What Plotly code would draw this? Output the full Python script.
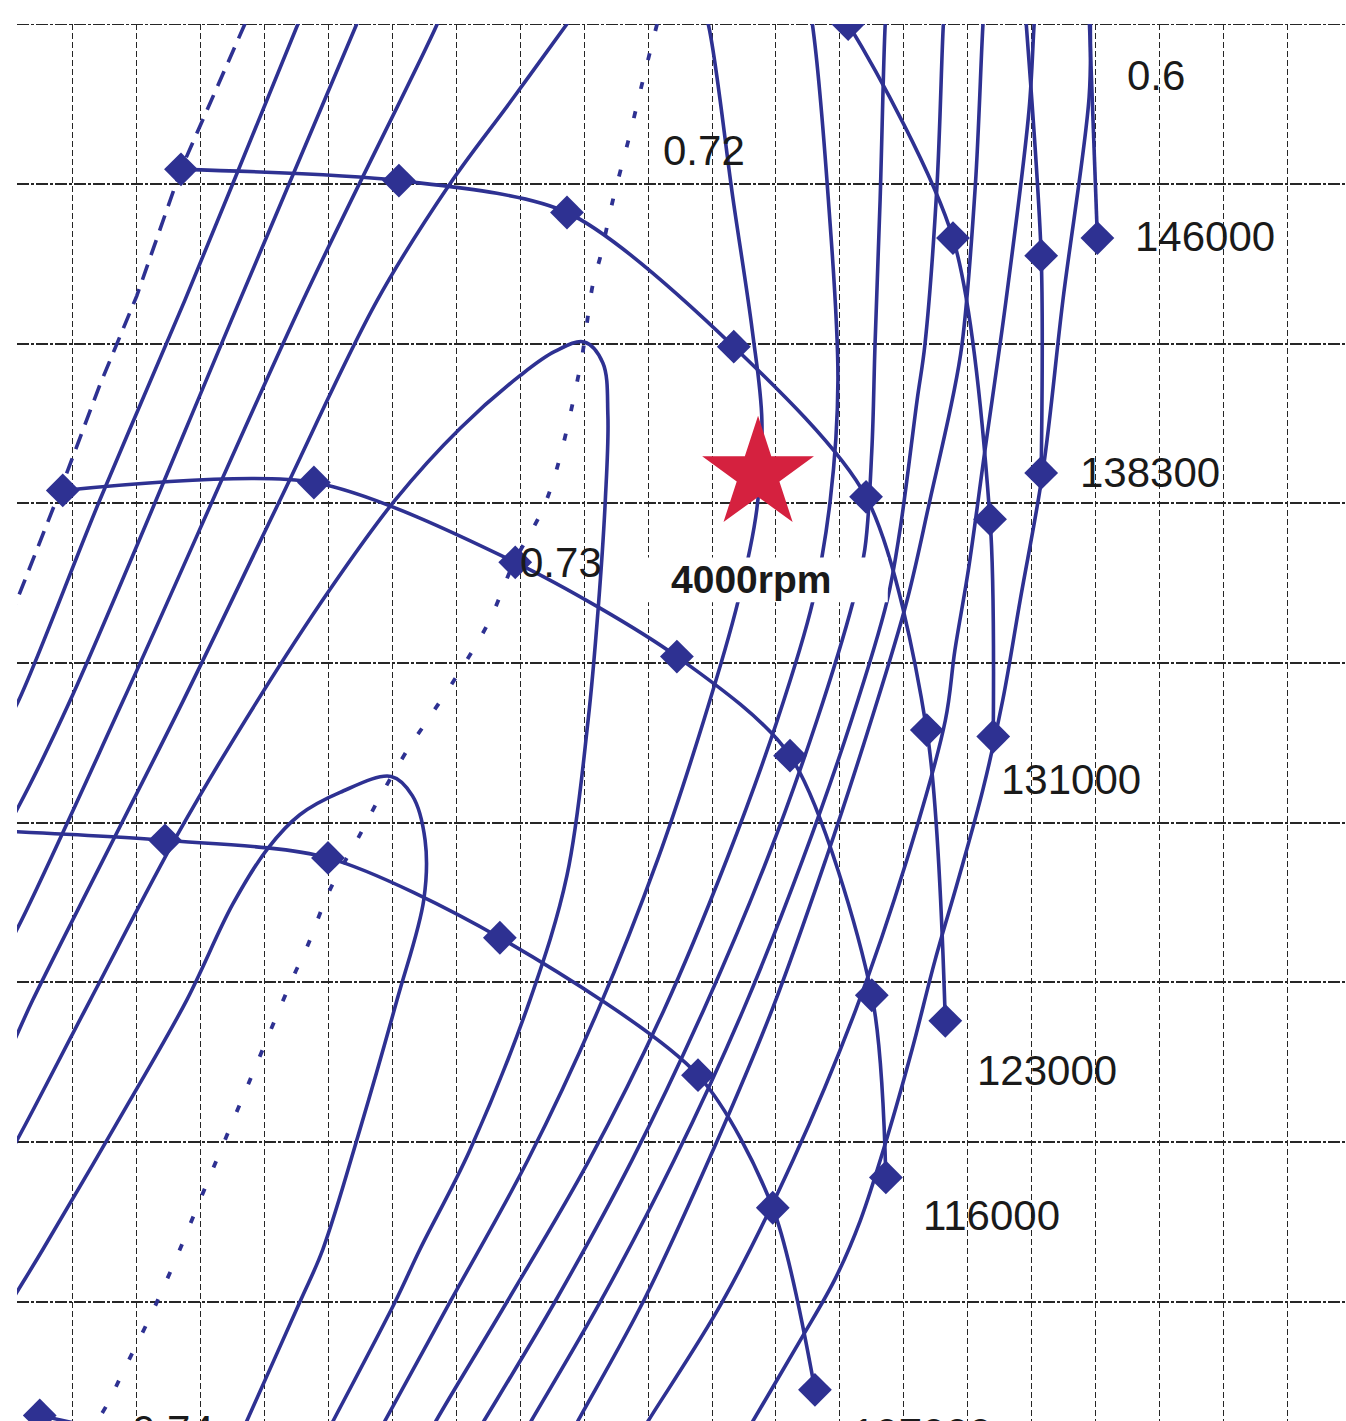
import plotly.graph_objects as go

# Axes are in grid units: one unit per major grid division.
X_RANGE = [-0.876, 19.92]
Y_RANGE = [-0.745, 8.0]

LINE_BLUE = "#2E3192"
STAR_RED = "#D5213F"
GRID_DARK = "#262626"
LW = 3.6

# ---- speed lines (diamond = measured point) ----
spd_107_x = [-1.20, 1.44, 3.99, 6.68, 9.78, 10.95, 11.61]
spd_107_y = [2.95, 2.89, 2.78, 2.28, 1.42, 0.59, -0.55]
spd_116_x = [-0.16, 3.77, 6.92, 9.45, 11.22, 12.50, 12.72]
spd_116_y = [5.08, 5.13, 4.63, 4.04, 3.42, 1.92, 0.78]
spd_123_x = [1.69, 5.10, 7.73, 10.34, 12.41, 13.36, 13.65]
spd_123_y = [7.09, 7.02, 6.82, 5.98, 5.04, 3.58, 1.76]
spd_131_x = [11.00, 12.13, 13.77, 14.35, 14.40]
spd_131_y = [8.60, 8.00, 6.66, 4.90, 3.54]
spd_138_x = [14.80, 15.15, 15.15]
spd_138_y = [8.60, 6.55, 5.19]
spd_146_x = [15.85, 16.03]
spd_146_y = [8.60, 6.66]
spd_098_x = [-0.52, 2.20]
spd_098_y = [-0.71, -0.95]

speed_labels = ["146000", "138300", "131000", "123000", "116000"]
speed_label_x = [16.59, 15.73, 14.49, 14.12, 13.27]
speed_label_y = [6.67, 5.19, 3.27, 1.45, 0.54]
# label of the lowest visible speed line sits on the lower edge
edge_speed_label = "107000"
edge_speed_label_x = 12.16

# ---- efficiency islands and outer contours ----
eff_074_x = [-1.14, -0.88, -0.47, 0.89, 1.78, 2.50, 3.05, 3.55, 4.18, 4.98,
             5.31, 5.51, 5.49, 5.07, 4.49, 3.91, 3.55, 2.72, 2.52]
eff_074_y = [-0.11, 0.06, 0.33, 1.26, 1.89, 2.49, 2.84, 3.05, 3.19, 3.29,
             3.17, 2.89, 2.52, 1.89, 1.08, 0.33, 0.00, -0.745, -0.93]
eff_073_x = [-1.14, -0.88, 0.27, 1.67, 2.88, 4.02, 5.04, 6.06, 7.00, 7.54, 8.00,
             8.29, 8.37, 8.33, 8.22, 8.06, 7.73, 7.15, 6.21, 5.43, 5.04, 4.07, 3.83]
eff_073_y = [0.83, 1.01, 1.89, 2.95, 3.76, 4.46, 5.02, 5.47, 5.80, 5.95, 6.01,
             5.88, 5.55, 5.02, 4.35, 3.64, 2.67, 1.89, 0.95, 0.33, 0.00, -0.745, -0.93]
eff_072_left_x = [8.01, 7.73, 6.84, 5.90, 4.76, 3.24, 1.72, -0.63, -0.88, -1.14]
eff_072_left_y = [8.15, 8.00, 7.51, 7.00, 6.27, 5.02, 3.76, 1.89, 1.67, 1.45]
eff_072_right_x = [9.81, 9.94, 10.33, 10.63, 10.78, 10.70, 10.41, 9.87, 9.15,
                   8.22, 7.12, 5.90, 4.88, 4.62]
eff_072_right_y = [8.15, 8.00, 6.90, 6.08, 5.52, 4.96, 4.39, 3.64, 2.77,
                   1.83, 0.89, 0.00, -0.745, -0.93]

cont_a_left_x = [3.68, 3.52, 1.75, 0.42, -0.88, -1.14]
cont_a_left_y = [8.15, 8.00, 6.27, 5.02, 3.74, 3.56]
cont_b_left_x = [4.60, 4.44, 2.61, -0.05, -0.88, -1.14]
cont_b_left_y = [8.15, 8.00, 6.27, 3.76, 3.08, 2.90]
cont_c_left_x = [5.85, 5.70, 3.60, 0.78, -0.88, -1.14]
cont_c_left_y = [8.15, 8.00, 6.27, 3.76, 2.33, 2.15]

cont_c_right_x = [11.50, 11.57, 11.82, 11.97, 11.85, 11.58, 11.02, 10.23,
                  9.25, 8.08, 6.79, 5.68, 5.43]
cont_c_right_y = [8.15, 8.00, 6.90, 5.77, 5.02, 4.39, 3.64, 2.77,
                  1.83, 0.89, 0.00, -0.745, -0.93]
cont_b_right_x = [12.74, 12.71, 12.63, 12.55, 12.50, 12.39, 12.21, 11.64,
                  10.86, 9.87, 8.75, 7.54, 6.43, 6.15]
cont_b_right_y = [8.15, 8.00, 6.90, 5.99, 5.33, 4.71, 4.39, 3.64,
                  2.77, 1.83, 0.89, 0.00, -0.745, -0.93]
cont_a_right_x = [13.65, 13.62, 13.52, 13.33, 13.21, 12.94, 12.74, 12.18,
                  11.42, 10.49, 9.41, 8.25, 7.17, 6.90]
cont_a_right_y = [8.15, 8.00, 6.99, 5.99, 5.65, 4.83, 4.39, 3.64,
                  2.77, 1.83, 0.89, 0.00, -0.745, -0.93]
cont_d_right_x = [14.27, 14.24, 14.12, 13.91, 13.76, 13.41, 13.05, 12.49,
                  11.78, 10.94, 9.95, 8.92, 7.90, 7.65]
cont_d_right_y = [8.15, 8.00, 6.99, 5.99, 5.65, 5.02, 4.39, 3.64,
                  2.77, 1.83, 0.89, 0.00, -0.745, -0.93]
cont_e_right_x = [15.07, 15.04, 14.96, 14.60, 14.27, 14.01, 13.80, 13.65,
                  13.05, 12.25, 11.27, 10.16, 9.00, 8.72]
cont_e_right_y = [8.15, 8.00, 7.46, 6.27, 5.33, 4.58, 4.08, 3.64,
                  2.77, 1.83, 0.89, 0.00, -0.745, -0.93]
cont_f_right_x = [15.92, 15.92, 15.90, 15.49, 15.18, 14.82, 14.55, 14.24,
                  13.85, 13.49, 13.13, 12.74, 12.32, 11.92, 11.38, 10.64, 10.38]
cont_f_right_y = [8.15, 8.00, 7.54, 6.27, 5.21, 4.39, 3.77, 3.21,
                  2.64, 2.14, 1.58, 1.03, 0.51, 0.14, -0.24, -0.745, -0.93]

# surge line (dashed) and peak-efficiency locus (dotted)
surge_x = [2.86, 2.69, 1.69, 1.00, 0.42, -0.20, -0.88, -1.14]
surge_y = [8.15, 8.00, 7.09, 6.30, 5.74, 5.08, 4.39, 4.14]
peak_x = [9.14, 8.92, 8.69, 8.45, 8.25, 8.14, 7.92, 7.42, 6.89, 6.51, 6.04,
          5.51, 5.24, 4.76, 4.51, 4.02, 3.66, 3.44, 2.77, 1.99, 1.60, 1.21,
          0.78, 0.55, 0.38]
peak_y = [8.00, 7.65, 7.27, 6.90, 6.54, 6.38, 5.82, 5.03, 4.62, 4.26, 3.94,
          3.62, 3.46, 3.13, 2.94, 2.58, 2.22, 2.03, 1.39, 0.64, 0.26, -0.09,
          -0.44, -0.63, -0.745]

eff_labels = ["0.6", "0.72", "0.73"]
eff_label_x = [16.46, 9.20, 6.96]
eff_label_y = [7.68, 7.21, 4.63]
edge_eff_label = "0.74"
edge_eff_label_x = 0.89

# operating point
op_x = [10.72]
op_y = [5.18]
op_label = "4000rpm"

fig = go.Figure()

contours = [
    (eff_074_x, eff_074_y), (eff_073_x, eff_073_y),
    (eff_072_left_x, eff_072_left_y), (eff_072_right_x, eff_072_right_y),
    (cont_a_left_x, cont_a_left_y), (cont_b_left_x, cont_b_left_y),
    (cont_c_left_x, cont_c_left_y), (cont_c_right_x, cont_c_right_y),
    (cont_b_right_x, cont_b_right_y), (cont_a_right_x, cont_a_right_y),
    (cont_d_right_x, cont_d_right_y), (cont_e_right_x, cont_e_right_y),
    (cont_f_right_x, cont_f_right_y),
]
for cx, cy in contours:
    fig.add_trace(go.Scatter(x=cx, y=cy, mode="lines",
                             line=dict(color=LINE_BLUE, width=LW, shape="spline", smoothing=1.0),
                             hoverinfo="skip", showlegend=False))

fig.add_trace(go.Scatter(x=surge_x, y=surge_y, mode="lines",
                         line=dict(color=LINE_BLUE, width=LW, dash="16px,10px"),
                         hoverinfo="skip", showlegend=False))
fig.add_trace(go.Scatter(x=peak_x, y=peak_y, mode="lines",
                         line=dict(color=LINE_BLUE, width=3.8, dash="7px,23px", shape="spline"),
                         hoverinfo="skip", showlegend=False))

speeds = [(spd_098_x, spd_098_y), (spd_107_x, spd_107_y), (spd_116_x, spd_116_y),
          (spd_123_x, spd_123_y), (spd_131_x, spd_131_y), (spd_138_x, spd_138_y),
          (spd_146_x, spd_146_y)]
for sx, sy in speeds:
    fig.add_trace(go.Scatter(x=sx, y=sy, mode="lines+markers",
                             line=dict(color=LINE_BLUE, width=LW, shape="spline", smoothing=0.8),
                             marker=dict(symbol="diamond", size=26, color=LINE_BLUE),
                             hoverinfo="skip", showlegend=False))

fig.add_trace(go.Scatter(x=op_x, y=op_y, mode="markers",
                         marker=dict(symbol="star", size=84, color=STAR_RED, line=dict(width=0)),
                         hoverinfo="skip", showlegend=False))

label_font = dict(family="Liberation Sans, Arial, sans-serif", size=42, color="#1a1a1a")
for txt, lx, ly in zip(speed_labels, speed_label_x, speed_label_y):
    fig.add_annotation(x=lx, y=ly, text=txt, showarrow=False, xanchor="left", font=label_font)
for txt, lx, ly in zip(eff_labels, eff_label_x, eff_label_y):
    fig.add_annotation(x=lx, y=ly, text=txt, showarrow=False, xanchor="left", font=label_font)
# labels that run off the lower edge: anchored at the edge, shifted down
fig.add_annotation(x=edge_speed_label_x, y=Y_RANGE[0] + 0.05, yshift=-20, text=edge_speed_label,
                   showarrow=False, xanchor="left", yanchor="middle", font=label_font)
fig.add_annotation(x=edge_eff_label_x, y=Y_RANGE[0] + 0.05, yshift=-17, text=edge_eff_label,
                   showarrow=False, xanchor="left", yanchor="middle", font=label_font)

# white label box under the operating point
fig.add_shape(type="rect", xref="x", yref="y",
              x0=op_x[0] - 1.85, x1=op_x[0] + 2.03, y0=op_y[0] - 0.80, y1=op_y[0] - 0.52,
              fillcolor="white", line=dict(width=0), layer="above")
fig.add_annotation(x=op_x[0] - 0.11, y=op_y[0] - 0.66, text="<b>" + op_label + "</b>",
                   showarrow=False, xanchor="center",
                   font=dict(family="Liberation Sans, Arial, sans-serif", size=39, color="#1a1a1a"))

# top border drawn like the other horizontal grid lines
fig.add_shape(type="line", xref="paper", yref="y", x0=0, x1=1, y0=Y_RANGE[1], y1=Y_RANGE[1],
              line=dict(color=GRID_DARK, width=2, dash="12px,2px,3px,2px"), layer="below")

fig.update_layout(
    width=1346, height=1421,
    margin=dict(l=17, r=0, t=24, b=0),
    paper_bgcolor="white", plot_bgcolor="white",
    xaxis=dict(range=X_RANGE, tick0=0, dtick=1, showgrid=True, gridcolor=GRID_DARK,
               gridwidth=1.3, griddash="6px,3px", zeroline=False, showticklabels=False,
               ticks="", showline=False),
    yaxis=dict(range=Y_RANGE, tick0=0, dtick=1, showgrid=True, gridcolor=GRID_DARK,
               gridwidth=2, griddash="12px,2px,3px,2px", zeroline=False, showticklabels=False,
               ticks="", showline=False),
)

fig.write_html("out.html")
